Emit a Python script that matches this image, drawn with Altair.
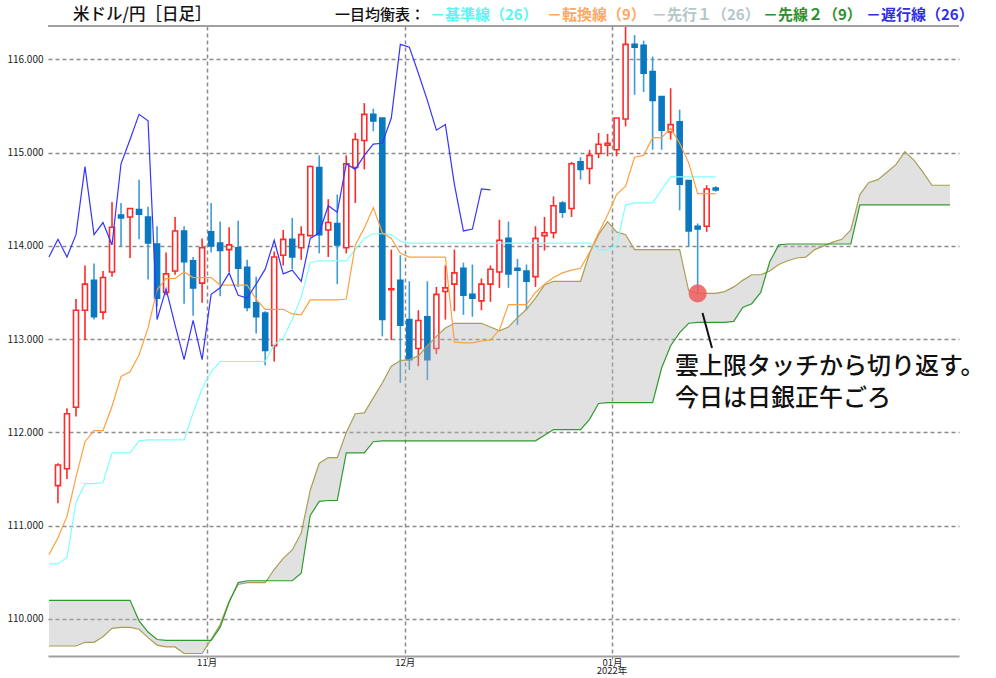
import altair as alt
import pandas as pd

# ---------------- data ----------------
idx = list(range(74))
opens = [111.43, 111.61, 112.27, 113.31, 113.63, 113.29, 113.72, 114.33, 114.31, 114.39,
         114.31, 114.02, 113.50, 113.73, 114.16, 113.84, 113.60, 114.15, 114.03, 113.96,
         113.98, 113.77, 113.39, 113.28, 112.93, 113.90, 114.07, 113.98, 114.11, 114.84,
         114.17, 114.24, 113.98, 114.84, 115.13, 115.41, 115.37, 113.53, 113.63, 113.21,
         112.90, 113.24, 112.90, 113.51, 113.59, 113.76, 113.48, 113.41, 113.59, 113.72,
         114.08, 113.76, 113.73, 113.67, 114.11, 114.14, 114.46, 114.40, 114.90, 114.83,
         114.99, 115.08, 115.03, 115.36, 116.16, 116.15, 115.87, 115.60, 115.22, 115.33,
         114.70, 114.21, 114.21, 114.62]
highs = [111.67, 112.26, 113.43, 113.79, 113.81, 113.73, 114.47, 114.46, 114.40, 114.71,
         114.42, 114.21, 113.93, 114.31, 114.21, 113.88, 114.08, 114.46, 114.26, 114.20,
         114.27, 113.85, 113.67, 113.30, 113.94, 114.17, 114.30, 114.21, 114.86, 114.97,
         114.50, 114.55, 114.97, 115.21, 115.53, 115.47, 115.37, 113.96, 113.90, 113.62,
         113.31, 113.62, 113.56, 113.79, 113.96, 113.82, 113.80, 113.65, 113.79, 114.28,
         114.26, 113.86, 113.80, 114.21, 114.31, 114.53, 114.48, 114.90, 114.95, 115.03,
         115.21, 115.20, 115.37, 116.36, 116.26, 116.20, 116.03, 115.60, 115.69, 115.46,
         114.70, 114.24, 114.65, 114.64]
lows = [111.24, 111.50, 112.17, 112.99, 113.21, 113.21, 113.67, 113.99, 113.87, 114.07,
        113.64, 113.35, 113.47, 113.69, 113.38, 113.25, 113.39, 113.93, 113.46, 113.72,
        113.56, 113.30, 113.06, 112.72, 112.76, 113.79, 113.75, 113.85, 114.10, 113.92,
        113.88, 113.59, 113.92, 114.46, 114.82, 115.23, 113.03, 112.99, 112.53, 112.67,
        112.71, 112.56, 112.84, 113.21, 113.30, 113.26, 113.24, 113.31, 113.40, 113.55,
        113.55, 113.15, 113.31, 113.56, 113.95, 114.08, 114.30, 114.31, 114.71, 114.66,
        114.94, 114.96, 114.96, 115.28, 115.62, 115.65, 115.03, 115.03, 115.14, 114.38,
        113.99, 113.49, 114.15, 114.58]
closes = [111.65, 112.20, 113.31, 113.59, 113.24, 113.66, 114.20, 114.30, 114.40, 114.34,
          114.03, 113.44, 113.70, 114.16, 113.83, 113.55, 113.98, 114.00, 113.95, 114.01,
          113.76, 113.34, 113.24, 112.88, 113.88, 114.07, 113.88, 114.12, 114.85, 114.12,
          114.25, 114.01, 114.88, 115.14, 115.41, 115.34, 113.21, 113.54, 113.15, 112.78,
          113.20, 112.78, 113.48, 113.55, 113.71, 113.47, 113.44, 113.59, 113.75, 114.06,
          113.70, 113.74, 113.62, 114.08, 114.14, 114.43, 114.36, 114.88, 114.82, 114.97,
          115.09, 115.10, 115.37, 116.16, 116.13, 115.85, 115.56, 115.24, 115.30, 114.66,
          114.16, 114.18, 114.61, 114.60]

line_idx = list(range(-1, 74))
tenkan = [110.69, 110.87, 111.10, 111.52, 111.90, 112.02, 112.02, 112.28, 112.60, 112.65,
          112.83, 113.12, 113.53, 113.65, 113.65, 113.72, 113.66, 113.66, 113.66, 113.58,
          113.58, 113.58, 113.58, 113.43, 113.32, 113.32, 113.32, 113.27, 113.26, 113.42,
          113.42, 113.42, 113.42, 113.43, 114.01, 114.19, 114.41, 114.14, 114.08, 113.92,
          113.88, 113.88, 113.88, 113.88, 113.88, 112.97, 112.96, 112.96, 112.98, 112.99,
          113.10, 113.37, 113.37, 113.37, 113.50, 113.59, 113.66, 113.71, 113.74, 113.76,
          113.93, 114.14, 114.33, 114.55, 114.64, 114.95, 114.97, 115.16, 115.16, 115.26,
          115.10, 114.89, 114.56, 114.56, 114.56]
kijun = [110.59, 110.59, 110.66, 111.25, 111.45, 111.45, 111.46, 111.78, 111.78, 111.78,
         111.91, 111.92, 111.92, 111.92, 111.92, 111.92, 112.21, 112.47, 112.65, 112.76,
         112.76, 112.76, 112.76, 112.76, 112.76, 112.94, 113.01, 113.21, 113.45, 113.82,
         113.84, 113.84, 113.84, 113.84, 113.96, 114.08, 114.13, 114.13, 114.12, 114.05,
         114.03, 114.03, 114.03, 114.03, 114.03, 114.03, 114.03, 114.03, 114.03, 114.03,
         114.03, 114.03, 114.03, 114.03, 114.03, 114.03, 114.03, 114.03, 114.03, 114.03,
         114.03, 113.96, 113.96, 114.00, 114.44, 114.46, 114.46, 114.46, 114.60, 114.74,
         114.74, 114.74, 114.74, 114.74, 114.74]

chikou_idx = list(range(-1, 49))
chikou = [113.88, 114.07, 113.88, 114.12, 114.85, 114.12, 114.25, 114.01, 114.88, 115.14,
          115.41, 115.34, 113.21, 113.54, 113.15, 112.78, 113.20, 112.78, 113.48, 113.55,
          113.71, 113.47, 113.44, 113.59, 113.75, 114.06, 113.70, 113.74, 113.62, 114.08,
          114.14, 114.43, 114.36, 114.88, 114.82, 114.97, 115.09, 115.10, 115.37, 116.16,
          116.13, 115.85, 115.56, 115.24, 115.30, 114.66, 114.16, 114.18, 114.61, 114.60]

cloud_idx = list(range(-1, 100))
senkou1 = [109.71, 109.71, 109.71, 109.71, 109.75, 109.75, 109.81, 109.90, 109.91, 109.91,
           109.89, 109.80, 109.72, 109.70, 109.70, 109.63, 109.63, 109.63, 109.78, 109.94,
           110.19, 110.37, 110.39, 110.39, 110.39, 110.53, 110.65, 110.74, 110.92, 111.38,
           111.67, 111.73, 111.73, 112.00, 112.20, 112.21, 112.37, 112.53, 112.71, 112.77,
           112.78, 112.82, 112.93, 113.03, 113.12, 113.17, 113.17, 113.17, 113.17, 113.13,
           113.09, 113.13, 113.23, 113.32, 113.44, 113.58, 113.62, 113.62, 113.62, 113.62,
           113.92, 114.12, 114.26, 114.15, 114.12, 113.96, 113.96, 113.96, 113.96, 113.96,
           113.96, 113.52, 113.49, 113.49, 113.49, 113.51, 113.56, 113.63, 113.69, 113.69,
           113.73, 113.80, 113.84, 113.87, 113.88, 113.96, 114.00, 114.04, 114.07, 114.17,
           114.55, 114.68, 114.71, 114.79, 114.87, 115.01, 114.92, 114.79, 114.65, 114.65,
           114.65]
senkou2 = [110.20, 110.20, 110.20, 110.20, 110.20, 110.20, 110.20, 110.20, 110.20, 110.20,
           109.98, 109.86, 109.78, 109.77, 109.77, 109.77, 109.77, 109.77, 109.77, 109.91,
           110.18, 110.39, 110.41, 110.41, 110.41, 110.41, 110.41, 110.41, 110.49, 111.11,
           111.26, 111.27, 111.27, 111.78, 111.78, 111.78, 111.90, 111.91, 111.91, 111.91,
           111.91, 111.91, 111.91, 111.91, 111.91, 111.91, 111.91, 111.91, 111.91, 111.91,
           111.91, 111.91, 111.91, 111.91, 111.91, 111.97, 112.03, 112.03, 112.03, 112.03,
           112.14, 112.31, 112.32, 112.32, 112.32, 112.32, 112.32, 112.32, 112.69, 112.93,
           113.07, 113.17, 113.18, 113.18, 113.18, 113.18, 113.19, 113.34, 113.38, 113.50,
           113.83, 114.01, 114.02, 114.02, 114.02, 114.02, 114.02, 114.02, 114.02, 114.02,
           114.44, 114.44, 114.44, 114.44, 114.44, 114.44, 114.44, 114.44, 114.44, 114.44,
           114.44]

month_pos = [16.5, 38.5, 61.5]
month_labels = ["11月", "12月", "01月"]
year_label = "2022年"
year_pos = 61.5
y_ticks = [110, 111, 112, 113, 114, 115, 116]
touch_day = 71

title_text = "米ドル/円［日足］"
legend_head = "一目均衡表："
legend_items = ["－基準線（26）", "－転換線（9）", "－先行１（26）", "－先線２（9）", "－遅行線（26）"]
note_lines = ["雲上限タッチから切り返す。", "今日は日銀正午ごろ"]

# ---------------- frames ----------------
candles = pd.DataFrame({"i": idx, "o": opens, "h": highs, "l": lows, "c": closes})
candles["dir"] = ["up" if c >= o else "down" for o, c in zip(opens, closes)]
lines_df = pd.DataFrame({"i": line_idx, "tenkan": tenkan, "kijun": kijun})
chikou_df = pd.DataFrame({"i": chikou_idx, "v": chikou})
cloud_df = pd.DataFrame({"i": cloud_idx, "s1": senkou1, "s2": senkou2})
touch_df = pd.DataFrame({"i": [idx[touch_day]], "v": [lows[touch_day]]})
year_df = pd.DataFrame({"i": [year_pos], "t": [year_label]})

W, H = 911, 630
FONT = "Noto Sans CJK JP"

xs = alt.Scale(domain=[-0.55, 99.45], nice=False, zero=False)
ys = alt.Scale(domain=[109.603, 116.357], nice=False, zero=False)

label_expr = " : ".join(
    [f"datum.value == {p} ? '{t}'" for p, t in zip(month_pos[:-1], month_labels[:-1])]
    + [f"'{month_labels[-1]}'"]
)

x_axis = alt.Axis(values=month_pos, labelExpr=label_expr, grid=True, gridDash=[4, 3],
                  gridColor="#8c8c8c", gridWidth=1.5, domain=True, domainColor="#a0a0a0",
                  domainWidth=2, ticks=True, tickSize=3, tickColor="#8c8c8c",
                  labelPadding=-2, labelFontSize=9.5, labelFont=FONT, labelColor="#222",
                  labelBaseline="top", title=None)
y_axis = alt.Axis(values=y_ticks, format=".3f", grid=True, gridDash=[4, 3],
                  gridColor="#8c8c8c", gridWidth=1.5, domain=False, ticks=False,
                  labelPadding=5, labelFontSize=10, labelFont=FONT, labelColor="#222",
                  title=None)

X = alt.X("i:Q", scale=xs, axis=x_axis)

def Y(field):
    return alt.Y(f"{field}:Q", scale=ys, axis=y_axis)

dir_dom = ["up", "down"]

wicks = alt.Chart(candles).mark_rule(strokeWidth=1.6, clip=True).encode(
    x=X, y=Y("l"), y2="h:Q",
    color=alt.Color("dir:N", scale=alt.Scale(domain=dir_dom, range=["#ff2a2a", "#3d9bd6"]), legend=None),
)
bodies = alt.Chart(candles).mark_bar(size=5, strokeWidth=1.6, clip=True).encode(
    x=X, y=Y("o"), y2="c:Q",
    fill=alt.Fill("dir:N", scale=alt.Scale(domain=dir_dom, range=["#ffffff", "#0a78c0"]), legend=None),
    stroke=alt.Stroke("dir:N", scale=alt.Scale(domain=dir_dom, range=["#ff2a2a", "#0a78c0"]), legend=None),
)

cloud = alt.Chart(cloud_df).mark_area(color="#b4b4b4", opacity=0.4, clip=True).encode(
    x=X, y=Y("s1"), y2="s2:Q"
)
s1_line = alt.Chart(cloud_df).mark_line(color="#a89f55", strokeWidth=1.2, clip=True).encode(x=X, y=Y("s1"))
s2_line = alt.Chart(cloud_df).mark_line(color="#2f9a2f", strokeWidth=1.2, clip=True).encode(x=X, y=Y("s2"))
kijun_line = alt.Chart(lines_df).mark_line(color="#80ffff", strokeWidth=1.2, clip=True).encode(x=X, y=Y("kijun"))
tenkan_line = alt.Chart(lines_df).mark_line(color="#ffa040", strokeWidth=1.2, clip=True).encode(x=X, y=Y("tenkan"))
chikou_line = alt.Chart(chikou_df).mark_line(color="#3535ff", strokeWidth=1.2, clip=True).encode(x=X, y=Y("v"))

touch = alt.Chart(touch_df).mark_point(filled=True, size=330, color="#ee5a5a", opacity=0.85, clip=True).encode(
    x=X, y=Y("v")
)

pointer = alt.Chart(touch_df).mark_rule(color="#111", strokeWidth=2).encode(
    x=alt.value(654.5), y=alt.value(287), x2=alt.value(664), y2=alt.value(322)
)

year_text = alt.Chart(year_df).mark_text(
    align="center", baseline="middle", fontSize=9.5, font=FONT, color="#222"
).encode(x=X, y=alt.value(H + 15), text="t:N")

def txt(text, x, y, size, color, weight="normal"):
    return alt.Chart(touch_df).mark_text(
        align="left", baseline="middle", fontSize=size, font=FONT, color=color, fontWeight=weight
    ).encode(x=alt.value(x), y=alt.value(y), text=alt.value(text))

note1 = txt(note_lines[0], 627, 341, 24, "#111", 500)
note2 = txt(note_lines[1], 627, 373, 24, "#111", 500)

title = txt(title_text, 25, -11, 16.5, "#111", 500)
head = txt(legend_head, 287, -11, 15, "#111", 500)
leg_x = [382, 499, 604, 715, 818]
leg_c = ["#5cf5f5", "#ffa860", "#b3c7c7", "#2e8f2e", "#3030e0"]
legs = [txt(t, x, -11, 15, c, "bold") for t, x, c in zip(legend_items, leg_x, leg_c)]

top_border = alt.Chart(touch_df).mark_rule(color="#a0a0a0", strokeWidth=2).encode(
    x=alt.value(0), x2=alt.value(W), y=alt.value(0)
)

chart = alt.layer(
    wicks, bodies, cloud, s1_line, s2_line, kijun_line, tenkan_line, chikou_line,
    touch, pointer, year_text, note1, note2, title, head, *legs, top_border
).properties(
    width=W, height=H,
    autosize=alt.AutoSizeParams(type="none"),
    padding={"left": 48, "top": 26, "right": 37, "bottom": 22},
    background="white",
).configure_view(stroke=None)

chart.save("out.html", embed_options={"renderer": "svg", "actions": False})
